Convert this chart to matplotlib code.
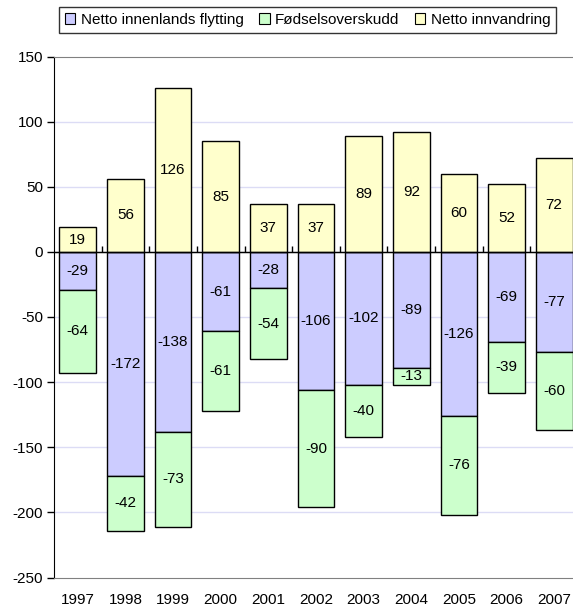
import matplotlib
matplotlib.use("Agg")
import matplotlib.pyplot as plt
import numpy as np
from matplotlib.patches import Patch

years = ["1997", "1998", "1999", "2000", "2001", "2002", "2003", "2004", "2005", "2006", "2007"]
innenlands = [-29, -172, -138, -61, -28, -106, -102, -89, -126, -69, -77]
fodsel = [-64, -42, -73, -61, -54, -90, -40, -13, -76, -39, -60]
innvandring = [19, 56, 126, 85, 37, 37, 89, 92, 60, 52, 72]
series_names = ["Netto innenlands flytting", "Fødselsoverskudd", "Netto innvandring"]
colors = ["#CCCCFF", "#CCFFCC", "#FFFFCC"]

plt.rcParams['font.family'] = ['Liberation Sans', 'DejaVu Sans']
plt.rcParams['axes.unicode_minus'] = False

fig = plt.figure(figsize=(5.73, 6.08), dpi=100)
left_px, right_px, top_px, bot_px = 54.0, 578.0, 56.5, 577.5
ax = fig.add_axes([left_px/573, (608-bot_px)/608, (right_px-left_px)/573, (bot_px-top_px)/608])

x = np.arange(len(years))
w = 0.77
ax.bar(x, innenlands, w, color=colors[0], edgecolor='black', linewidth=1, zorder=3)
ax.bar(x, fodsel, w, bottom=innenlands, color=colors[1], edgecolor='black', linewidth=1, zorder=3)
ax.bar(x, innvandring, w, color=colors[2], edgecolor='black', linewidth=1, zorder=3)

fs = 11
for i in range(len(years)):
    ax.text(x[i], innenlands[i]/2, str(innenlands[i]), ha='center', va='center', fontsize=fs, zorder=4)
    ax.text(x[i], innenlands[i] + fodsel[i]/2, str(fodsel[i]), ha='center', va='center', fontsize=fs, zorder=4)
    ax.text(x[i], innvandring[i]/2, str(innvandring[i]), ha='center', va='center', fontsize=fs, zorder=4)

ax.set_xlim(-0.5, len(years) - 0.5)
ax.set_ylim(-250, 150)
ax.set_yticks(np.arange(-250, 151, 50))
ax.set_xticks(x)
ax.set_xticklabels(years, fontsize=fs)
ax.tick_params(axis='x', length=0, pad=11)
ax.tick_params(axis='y', labelsize=fs, length=5, direction='out', width=1, pad=3)

for yv in np.arange(-200, 150, 50):
    if yv != 0:
        ax.axhline(yv, color='#DCDCF5', linewidth=1, zorder=1)

ax.spines['left'].set_color('black')
ax.spines['top'].set_color('#808080')
ax.spines['bottom'].set_color('#808080')
ax.spines['right'].set_color('#808080')

ax.axhline(0, color='black', linewidth=1, zorder=5)
sec = ax.secondary_xaxis(250/400)
sec.set_xticks(np.arange(0.5, len(years) - 0.5, 1))
sec.set_xticklabels([])
sec.tick_params(direction='out', length=4, width=1, colors='black')
sec.spines['bottom'].set_color('black')

handles = [Patch(facecolor=c, edgecolor='black', linewidth=0.8) for c in colors]
leg = fig.legend(handles, series_names, loc='center', bbox_to_anchor=(307.5/573, 1 - 20/608),
                 ncol=3, frameon=True, fancybox=False, edgecolor='black', fontsize=fs,
                 handlelength=0.7, handleheight=0.7, handletextpad=0.35, columnspacing=1.0,
                 borderpad=0.4, borderaxespad=0)
leg.get_frame().set_linewidth(1)

fig.savefig("out.png", dpi=100)
